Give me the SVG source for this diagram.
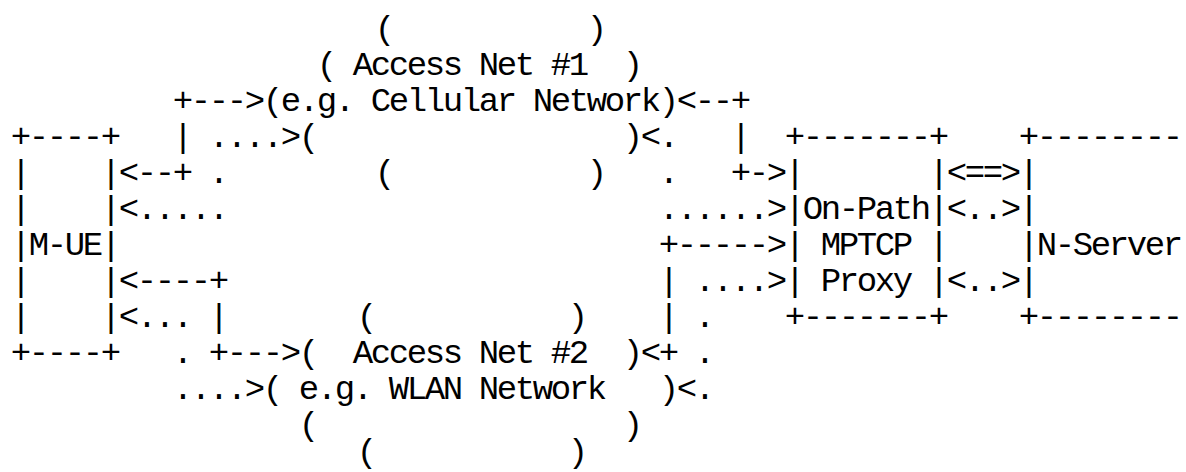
<svg xmlns="http://www.w3.org/2000/svg" width="1186" height="472" viewBox="0 0 1186 472" xml:space="preserve">
<style>
text{font-family:"Liberation Mono","DejaVu Sans Mono",monospace;font-size:34px;letter-spacing:-2.4px;fill:#000;white-space:pre}
</style>
<rect width="1186" height="472" fill="#fff"/>
<g id="access-net-1">
<text x="374.8" y="39">(</text>
<text x="586.8" y="39">)</text>
<text x="316.8" y="75">( Access Net #1  )</text>
<text x="262.8" y="111">(e.g. Cellular Network)</text>
<text x="298.8" y="147">(</text>
<text x="622.8" y="147">)</text>
<text x="374.8" y="183">(</text>
<text x="586.8" y="183">)</text>
</g>
<g id="m-ue">
<text x="10.8" y="147">+----+</text>
<text x="10.8" y="183">|    |</text>
<text x="10.8" y="219">|    |</text>
<text x="10.8" y="255">|M-UE|</text>
<text x="10.8" y="291">|    |</text>
<text x="10.8" y="327">|    |</text>
<text x="10.8" y="363">+----+</text>
</g>
<g id="mptcp-proxy">
<text x="784.8" y="147">+-------+</text>
<text x="784.8" y="183">|       |</text>
<text x="784.8" y="219">|On-Path|</text>
<text x="784.8" y="255">| MPTCP |</text>
<text x="784.8" y="291">| Proxy |</text>
<text x="784.8" y="327">+-------+</text>
</g>
<g id="n-server">
<text x="1018.8" y="147">+--------</text>
<text x="1018.8" y="183">|</text>
<text x="1018.8" y="219">|</text>
<text x="1018.8" y="255">|N-Server</text>
<text x="1018.8" y="291">|</text>
<text x="1018.8" y="327">+--------</text>
</g>
<g id="access-net-2">
<text x="356.8" y="327">(</text>
<text x="567.8" y="327">)</text>
<text x="298.8" y="363">(  Access Net #2  )</text>
<text x="262.8" y="399">( e.g. WLAN Network   )</text>
<text x="298.8" y="435">(</text>
<text x="622.8" y="435">)</text>
<text x="356.8" y="462">(</text>
<text x="567.8" y="462">)</text>
</g>
<g id="connectors">
<text x="172.8" y="111">+---&gt;</text>
<text x="676.8" y="111">&lt;--+</text>
<text x="172.8" y="147">| ....&gt;</text>
<text x="640.8" y="147">&lt;.</text>
<text x="730.8" y="147">|</text>
<text x="118.8" y="183">&lt;--+ .</text>
<text x="658.8" y="183">.</text>
<text x="730.8" y="183">+-&gt;</text>
<text x="946.8" y="183">&lt;==&gt;</text>
<text x="118.8" y="219">&lt;.....</text>
<text x="658.8" y="219">......&gt;</text>
<text x="946.8" y="219">&lt;..&gt;</text>
<text x="658.8" y="255">+-----&gt;</text>
<text x="118.8" y="291">&lt;----+</text>
<text x="658.8" y="291">| ....&gt;</text>
<text x="946.8" y="291">&lt;..&gt;</text>
<text x="118.8" y="327">&lt;... |</text>
<text x="658.8" y="327">| .</text>
<text x="172.8" y="363">. +---&gt;</text>
<text x="640.8" y="363">&lt;+ .</text>
<text x="172.8" y="399">....&gt;</text>
<text x="676.8" y="399">&lt;.</text>
</g>
</svg>
